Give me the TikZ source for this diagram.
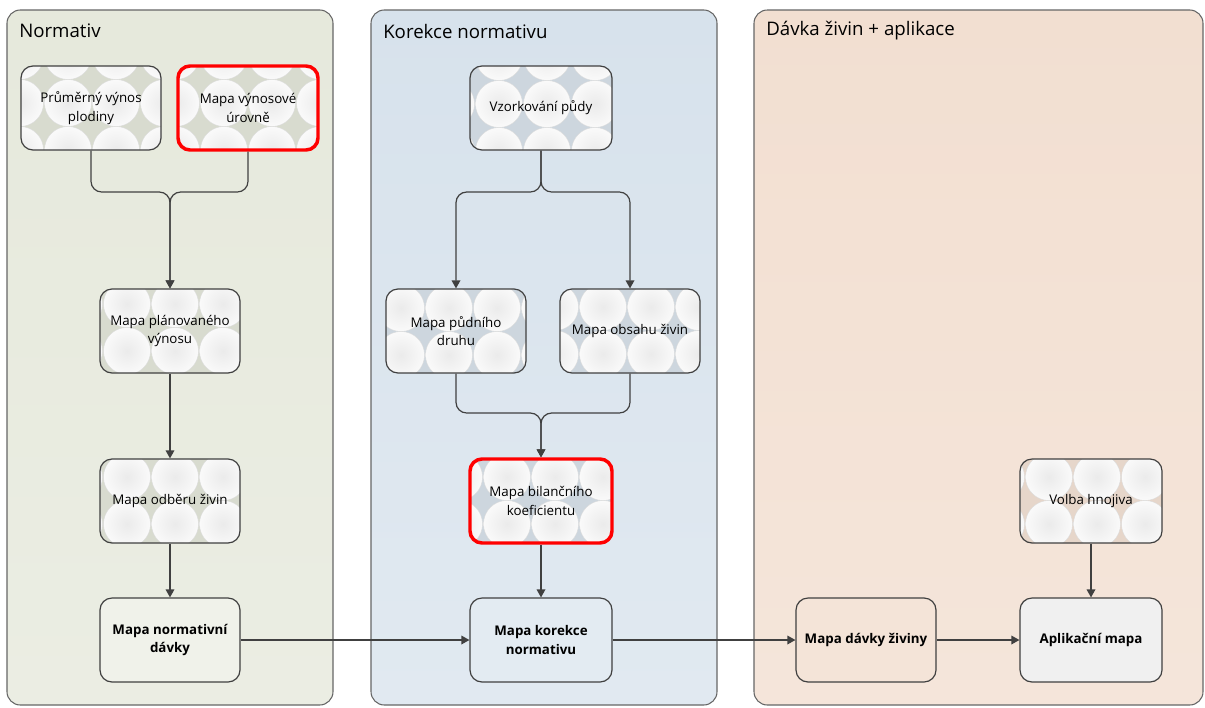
\documentclass[tikz,border=0pt]{standalone}
\usepackage{fontspec}
\setmainfont{Open Sans}
\usetikzlibrary{arrows.meta}

\definecolor{lineGray}{HTML}{404040}
\definecolor{laneOne}{HTML}{E6E9DC}
\definecolor{laneTwo}{HTML}{D7E2EC}
\definecolor{laneThree}{HTML}{F2DFD1}
\definecolor{starOne}{HTML}{D8DBCF}
\definecolor{starTwo}{HTML}{CDD6DE}
\definecolor{starThree}{HTML}{E6D6CA}
\definecolor{markRed}{HTML}{FF0000}

\tikzset{
  lane/.style={draw=lineGray!80, line width=0.8pt, rounded corners=10},
  lanetitle/.style={anchor=west, inner sep=0pt, font=\fontsize{14}{16}\selectfont},
  box/.style={rectangle, draw=lineGray, line width=0.9pt, rounded corners=9, minimum width=105pt, minimum height=63pt, align=center, inner sep=2pt, font=\fontsize{10}{14}\selectfont},
  tile/.style n args={3}{box, fill=#1, path picture={
      \foreach \i in {-1,...,3}
        \foreach \j in {-1,...,2}
          \shade[inner color=black!8, outer color=white!98!black, draw=black!14, line width=0.3pt]
            ([shift={({#2+48*\i},{#3+47*\j})}]path picture bounding box.north west) circle (23.5);
    }},
  result/.style={box, font=\fontsize{10}{14}\selectfont\bfseries},
  marked/.style={draw=markRed, line width=2.6pt},
  conn/.style={draw=lineGray, line width=0.9pt, -{Triangle[length=6pt, width=6.5pt]}},
  brace/.style={conn, rounded corners=8}
}

\begin{document}
\begin{tikzpicture}[x=0.75pt, y=-0.75pt]

  \useasboundingbox (0,0) rectangle (1205,707);

  \draw [lane, top color=laneOne, bottom color=laneOne!80!white]     (7,10)   rectangle (333,705);
  \draw [lane, top color=laneTwo, bottom color=laneTwo!75!white]     (371,10) rectangle (717,705);
  \draw [lane, top color=laneThree, bottom color=laneThree!80!white] (754,10) rectangle (1203,705);

  \node [lanetitle] (tnorm)  at (19,31)  {Normativ};
  \node [lanetitle] (tkorek) at (383,31) {Korekce normativu};
  \node [lanetitle] (tdavka) at (766,31) {Dávka živin + aplikace};

  \node [tile={starOne}{-1}{-10}]             (prum)   at (91,108)   {Průměrný výnos\\plodiny};
  \node [tile={starOne}{-2}{-10}, marked]     (vynos)  at (248,108)  {Mapa výnosové\\úrovně};
  \node [tile={starOne}{27}{15}]              (plan)   at (170,331)  {Mapa plánovaného\\výnosu};
  \node [tile={starOne}{27}{18}]              (odber)  at (170,501)  {Mapa odběru živin};
  \node [result, fill=laneOne!60!white]       (norm)   at (170,640)  {Mapa normativní\\dávky};

  \node [tile={starTwo}{29}{38}, minimum width=106.5pt]  (vzork)  at (541,108)  {Vzorkování půdy};
  \node [tile={starTwo}{15}{19}]                         (pudni)  at (456,331)  {Mapa půdního\\druhu};
  \node [tile={starTwo}{43}{18}]                         (obsah)  at (630,331)  {Mapa obsahu živin};
  \node [tile={starTwo}{37}{18}, marked, minimum width=106.5pt] (bilanc) at (541,501) {Mapa bilančního\\koeficientu};
  \node [result, fill=laneTwo!70!white, minimum width=106.5pt] (korek)  at (541,640)  {Mapa korekce\\normativu};

  \node [tile={starThree}{29}{18}, minimum width=106.5pt] (volba) at (1091,501) {Volba hnojiva};
  \node [result, fill=laneThree!85!white]                 (davka) at (866,640)  {Mapa dávky živiny};
  \node [result, fill=black!6, minimum width=106.5pt]     (aplik) at (1091,640) {Aplikační mapa};

  \coordinate (jplan)  at (170,192);
  \coordinate (jvzork) at (541,192);
  \coordinate (jbil)   at (541,413);

  \draw [brace] (prum.south)  |- (jplan) -- (plan.north);
  \draw [brace] (vynos.south) |- (jplan) -- (plan.north);
  \draw [conn]  (plan) -- (odber);
  \draw [conn]  (odber) -- (norm);

  \draw [brace] (vzork.south) -- (jvzork) -| (pudni.north);
  \draw [brace] (vzork.south) -- (jvzork) -| (obsah.north);
  \draw [brace] (pudni.south) |- (jbil) -- (bilanc.north);
  \draw [brace] (obsah.south) |- (jbil) -- (bilanc.north);
  \draw [conn]  (bilanc) -- (korek);

  \draw [conn] (norm) -- (korek);
  \draw [conn] (korek) -- (davka);
  \draw [conn] (davka) -- (aplik);
  \draw [conn] (volba) -- (aplik);

\end{tikzpicture}
\end{document}
